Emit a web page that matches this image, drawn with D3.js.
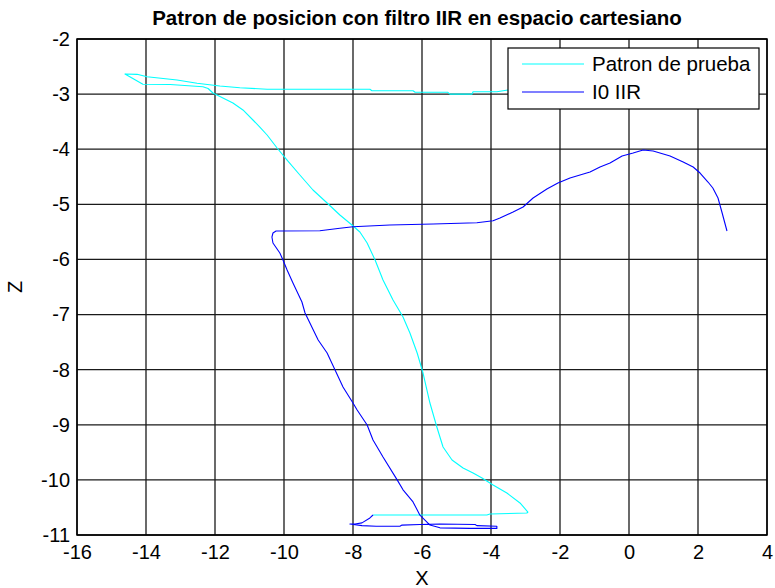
<!DOCTYPE html>
<html>
<head>
<meta charset="utf-8">
<script src="https://cdn.jsdelivr.net/npm/d3@7"></script>
<style>
  html, body { margin: 0; padding: 0; background: #ffffff; }
  svg { display: block; }
  text { font-family: "Liberation Sans", Arial, Helvetica, sans-serif; fill: #000; }
</style>
</head>
<body>
<svg id="chart" width="775" height="588"></svg>
<script>
// Test pattern trajectory (X, Z)
const patronX = [-3.00, -3.51, -3.83, -4.52, -4.55, -5.19, -5.25, -6.20, -6.26, -7.45, -7.51, -10.49,
  -11.28, -11.86, -12.52, -13.10, -13.97, -14.26, -14.61,
  -14.09, -13.30, -12.35, -12.20, -12.06, -11.48, -11.19, -10.90, -10.70, -10.49, -10.20, -9.91,
  -9.54, -9.16, -8.75, -8.38, -8.03, -7.80, -7.59, -7.36, -7.13, -6.84, -6.55, -6.35, -6.14,
  -5.97, -5.77, -5.57, -5.39, -5.13, -4.81, -4.52, -4.26, -3.94, -3.54, -3.16, -2.93, -2.96,
  -4.03, -4.12, -7.42];
const patronZ = [-2.925, -2.925, -2.956, -2.956, -3.000, -3.000, -2.967, -2.967, -2.938, -2.938, -2.913, -2.913,
  -2.884, -2.853, -2.804, -2.744, -2.684, -2.641, -2.635,
  -2.822, -2.826, -2.866, -2.898, -2.980, -3.161, -3.288, -3.470, -3.597, -3.742, -3.978, -4.196,
  -4.468, -4.740, -4.976, -5.194, -5.375, -5.502, -5.702, -6.010, -6.373, -6.736, -7.044, -7.335, -7.698,
  -8.061, -8.605, -9.040, -9.403, -9.639, -9.784, -9.875, -9.966, -10.093, -10.238, -10.419, -10.583, -10.601,
  -10.619, -10.637, -10.637];

// Filtered (I0 IIR) trajectory (X, Z)
const iirX = [-7.42, -7.51, -7.74, -7.94, -8.09,
  -7.74, -7.33, -6.64, -6.58, -6.06, -5.48, -4.46, -4.41, -3.83,
  -3.83, -4.61, -5.48,
  -5.77, -6.06, -6.26, -6.55, -6.72, -7.13, -7.42, -7.59, -7.88, -8.00, -8.29, -8.52, -8.75, -9.01,
  -9.39, -9.48, -9.74, -9.91, -10.03, -10.12, -10.32, -10.35, -10.32, -10.23,
  -8.96, -8.38, -8.00, -6.93, -5.68, -4.41, -3.94, -3.74, -3.36, -3.07, -2.78, -2.38, -2.06, -1.71,
  -1.13, -0.84, -0.55, -0.20, 0.12, 0.41, 0.70, 1.19, 1.57, 1.86, 2.06, 2.29, 2.43, 2.58, 2.70, 2.84];
const iirZ = [-10.637, -10.690, -10.780, -10.800, -10.800,
  -10.830, -10.840, -10.840, -10.820, -10.810, -10.800, -10.810, -10.830, -10.840,
  -10.880, -10.880, -10.870,
  -10.820, -10.640, -10.400, -10.180, -10.000, -9.585, -9.276, -9.004, -8.732, -8.605, -8.315, -8.006, -7.698, -7.462,
  -6.972, -6.772, -6.428, -6.192, -6.010, -5.883, -5.702, -5.593, -5.520, -5.484,
  -5.478, -5.435, -5.406, -5.375, -5.357, -5.333, -5.297, -5.248, -5.139, -5.048, -4.885, -4.722, -4.613, -4.522,
  -4.413, -4.323, -4.250, -4.123, -4.069, -4.014, -4.032, -4.123, -4.232, -4.323, -4.432, -4.595, -4.704, -4.885, -5.157, -5.484];

const xTicks = [-16, -14, -12, -10, -8, -6, -4, -2, 0, 2, 4];
const zTicks = [-2, -3, -4, -5, -6, -7, -8, -9, -10, -11];
const seriesNames = ["Patron de prueba", "I0 IIR"];
const seriesColors = ["#00ffff", "#0000ff"];

const svg = d3.select("#chart");
const plot = { left: 77, right: 767, top: 39, bottom: 535 };

const x = d3.scaleLinear().domain([-16, 4]).range([plot.left, plot.right]);
const y = d3.scaleLinear().domain([-11, -2]).range([plot.bottom, plot.top]);

// Tick labels use a plain hyphen for negatives
const plainFormat = d => String(d);

// Grid
const grid = svg.append("g");
grid.selectAll("line.gx").data(xTicks).join("line")
  .attr("x1", d => x(d)).attr("x2", d => x(d))
  .attr("y1", plot.top).attr("y2", plot.bottom)
  .attr("stroke", "#1a1a1a").attr("stroke-width", 1.3);
grid.selectAll("line.gy").data(zTicks).join("line")
  .attr("x1", plot.left).attr("x2", plot.right)
  .attr("y1", d => y(d)).attr("y2", d => y(d))
  .attr("stroke", "#1a1a1a").attr("stroke-width", 1.3);

// Axes (labels only; the ticks coincide with the grid)
const xAxis = svg.append("g").attr("transform", `translate(0,${plot.bottom})`)
  .call(d3.axisBottom(x).tickValues(xTicks).tickSize(0).tickPadding(10).tickFormat(plainFormat));
const yAxis = svg.append("g").attr("transform", `translate(${plot.left},0)`)
  .call(d3.axisLeft(y).tickValues(zTicks).tickSize(0).tickPadding(7).tickFormat(plainFormat));
[xAxis, yAxis].forEach(a => {
  a.select(".domain").remove();
  a.selectAll("text").style("font-size", "20px").attr("fill", "#000");
});
xAxis.selectAll("text").attr("dy", "0.71em");

// Data lines
const line = d3.line().x(d => x(d[0])).y(d => y(d[1]));
const patron = patronX.map((v, i) => [v, patronZ[i]]);
const iir = iirX.map((v, i) => [v, iirZ[i]]);
svg.append("path").datum(patron).attr("d", line)
  .attr("fill", "none").attr("stroke", seriesColors[0]).attr("stroke-width", 1.1).attr("stroke-linejoin", "round");
svg.append("path").datum(iir).attr("d", line)
  .attr("fill", "none").attr("stroke", seriesColors[1]).attr("stroke-width", 1.1).attr("stroke-linejoin", "round");

// Plot box
svg.append("rect")
  .attr("x", plot.left).attr("y", plot.top)
  .attr("width", plot.right - plot.left).attr("height", plot.bottom - plot.top)
  .attr("fill", "none").attr("stroke", "#000").attr("stroke-width", 1.5);

// Title and axis labels
svg.append("text").attr("x", 417).attr("y", 25)
  .attr("text-anchor", "middle").style("font-size", "20.5px").style("font-weight", "bold")
  .text("Patron de posicion con filtro IIR en espacio cartesiano");
svg.append("text").attr("x", (plot.left + plot.right) / 2).attr("y", 585)
  .attr("text-anchor", "middle").style("font-size", "20px").text("X");
svg.append("text").attr("transform", `translate(22,${(plot.top + plot.bottom) / 2}) rotate(-90)`)
  .attr("text-anchor", "middle").style("font-size", "20px").text("Z");

// Legend
const legend = svg.append("g").attr("transform", "translate(508,48)");
legend.append("rect").attr("width", 251).attr("height", 61)
  .attr("fill", "#fff").attr("stroke", "#000").attr("stroke-width", 1.2);
seriesNames.forEach((name, i) => {
  const yy = 16 + i * 28;
  legend.append("line").attr("x1", 14).attr("x2", 76).attr("y1", yy).attr("y2", yy)
    .attr("stroke", seriesColors[i]).attr("stroke-width", 1.1);
  legend.append("text").attr("x", 84).attr("y", yy).attr("dy", "0.35em")
    .style("font-size", "20.5px").text(name);
});
</script>
</body>
</html>
